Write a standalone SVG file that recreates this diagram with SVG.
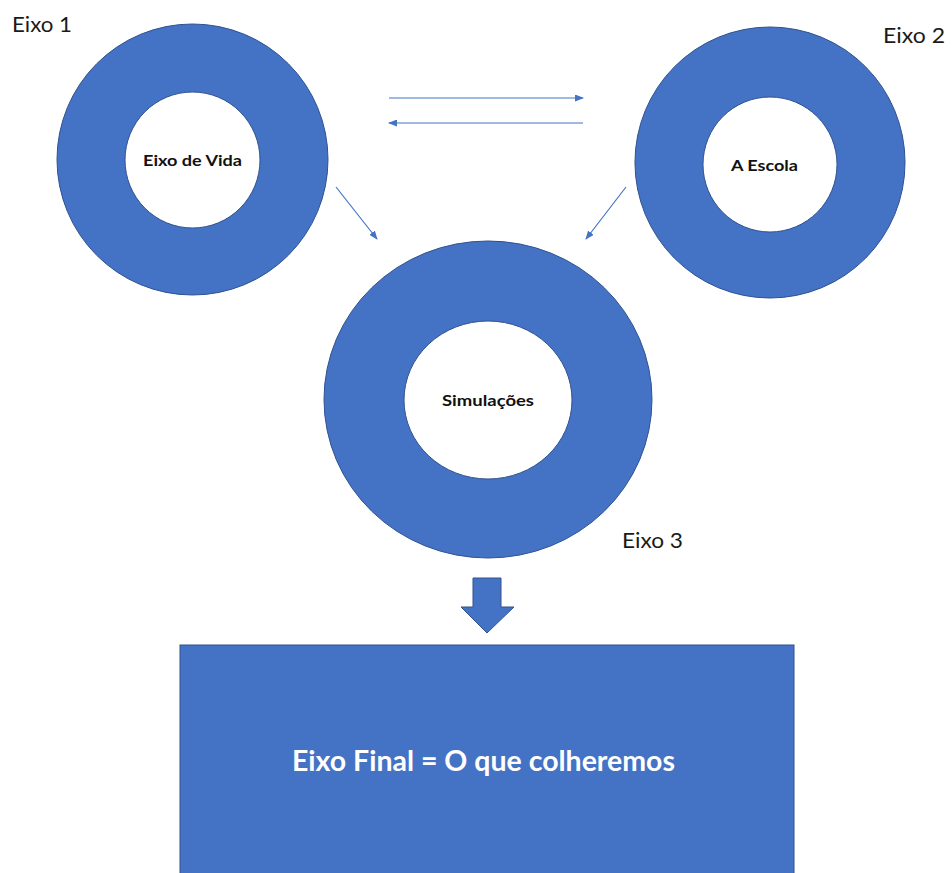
<svg xmlns="http://www.w3.org/2000/svg" width="952" height="873" viewBox="0 0 952 873">
<defs>
<style>
.ring{fill:#4472C4;stroke:#2F528F;stroke-width:1;fill-rule:evenodd}
.lbl{font-family:Lato,"Open Sans","Liberation Sans",sans-serif;font-size:22px;fill:#1a1a1a}
.in{font-family:Lato,"Open Sans","Liberation Sans",sans-serif;font-size:16px;font-weight:bold;fill:#111}
.conn{stroke:#4472C4;stroke-width:1.2;fill:none;marker-end:url(#ah)}
</style>
<marker id="ah" markerWidth="9" markerHeight="7" refX="8" refY="3.5" orient="auto" markerUnits="userSpaceOnUse">
<path d="M0,0 L9,3.5 L0,7 Z" fill="#4472C4"/>
</marker>
</defs>
<rect width="952" height="873" fill="#fff"/>
<g id="eixo1">
<path class="ring" d="M192.5,24 A135.5,135.5 0 1 0 192.5,295 A135.5,135.5 0 1 0 192.5,24 Z M192.5,92 A67.5,68 0 1 1 192.5,228 A67.5,68 0 1 1 192.5,92 Z"/>
<text class="in" x="192.5" y="166" text-anchor="middle" textLength="99" lengthAdjust="spacingAndGlyphs">Eixo de Vida</text>
<text class="lbl" x="12" y="32" textLength="60" lengthAdjust="spacingAndGlyphs">Eixo 1</text>
</g>
<g id="eixo2">
<path class="ring" d="M770,27 A135,135.5 0 1 0 770,298 A135,135.5 0 1 0 770,27 Z M770,97 A67,67.5 0 1 1 770,232 A67,67.5 0 1 1 770,97 Z"/>
<text class="in" x="764.5" y="171" text-anchor="middle" textLength="67" lengthAdjust="spacingAndGlyphs">A Escola</text>
<text class="lbl" x="883" y="43" textLength="62" lengthAdjust="spacingAndGlyphs">Eixo 2</text>
</g>
<g id="eixo3">
<path class="ring" d="M488,241 A164,158.5 0 1 0 488,558 A164,158.5 0 1 0 488,241 Z M488,321 A84,79 0 1 1 488,479 A84,79 0 1 1 488,321 Z"/>
<text class="in" x="488" y="406" text-anchor="middle" textLength="92" lengthAdjust="spacingAndGlyphs">Simulações</text>
<text class="lbl" x="622" y="548" textLength="61" lengthAdjust="spacingAndGlyphs">Eixo 3</text>
</g>
<g id="final">
<rect x="180" y="645" width="614" height="240" fill="#4472C4" stroke="#2F528F" stroke-width="1"/>
<text x="483.5" y="771" text-anchor="middle" font-family="Lato,'Open Sans','Liberation Sans',sans-serif" font-size="28" font-weight="bold" fill="#fff" textLength="383" lengthAdjust="spacingAndGlyphs">Eixo Final = O que colheremos</text>
</g>
<g id="connectors">
<line class="conn" x1="389" y1="98" x2="583" y2="98"/>
<line class="conn" x1="583" y1="123" x2="389" y2="123"/>
<line class="conn" x1="336" y1="187" x2="377" y2="239"/>
<line class="conn" x1="626" y1="187" x2="586" y2="239"/>
<path id="down-arrow" d="M473,578 L501,578 L501,607 L514,607 L487,633 L461,607 L473,607 Z" fill="#4472C4" stroke="#2F528F" stroke-width="1"/>
</g>
</svg>
